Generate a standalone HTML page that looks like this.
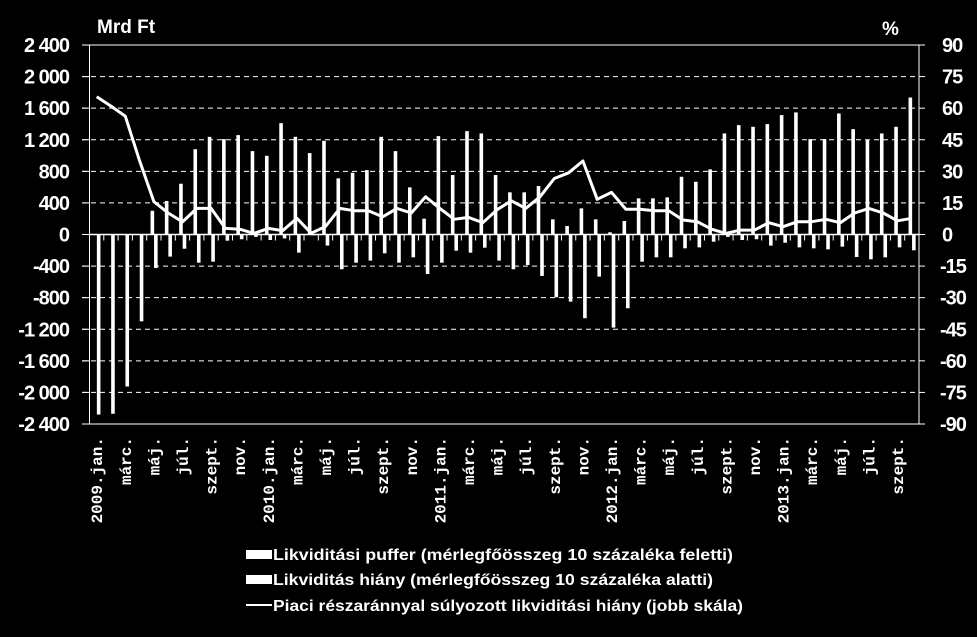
<!DOCTYPE html>
<html><head><meta charset="utf-8"><style>
html,body{margin:0;padding:0;background:#000;}
svg{display:block;}
text{fill:#fff;font-family:"Liberation Sans",sans-serif;font-weight:bold;}
</style></head><body>
<svg id="chart" width="977" height="637" viewBox="0 0 977 637" xmlns="http://www.w3.org/2000/svg">
<rect x="0" y="0" width="977" height="637" fill="#000"/>
<g id="grid"></g><g id="bars"></g><g id="line"></g><g id="axes"></g><g id="labels"></g>
<text x="97" y="33" font-size="19">Mrd Ft</text>
<text x="882" y="35" font-size="19">%</text>
<g>
<rect x="246" y="550" width="26" height="9" fill="#fff"/>
<text x="273" y="560" font-size="16" textLength="460" lengthAdjust="spacingAndGlyphs">Likviditási puffer (mérlegfőösszeg 10 százaléka feletti)</text>
<rect x="246" y="575" width="26" height="9" fill="#fff"/>
<text x="273" y="585" font-size="16" textLength="440" lengthAdjust="spacingAndGlyphs">Likviditás hiány (mérlegfőösszeg 10 százaléka alatti)</text>
<line x1="246" y1="605" x2="272" y2="605" stroke="#fff" stroke-width="2"/>
<text x="273" y="611" font-size="16" textLength="470" lengthAdjust="spacingAndGlyphs">Piaci részaránnyal súlyozott likviditási hiány (jobb skála)</text>
</g>
</svg>
<script>
const months = ["2009.jan.","febr.","márc.","ápr.","máj.","jún.","júl.","aug.","szept.","okt.","nov.","dec.",
"2010.jan.","febr.","márc.","ápr.","máj.","jún.","júl.","aug.","szept.","okt.","nov.","dec.",
"2011.jan.","febr.","márc.","ápr.","máj.","jún.","júl.","aug.","szept.","okt.","nov.","dec.",
"2012.jan.","febr.","márc.","ápr.","máj.","jún.","júl.","aug.","szept.","okt.","nov.","dec.",
"2013.jan.","febr.","márc.","ápr.","máj.","jún.","júl.","aug.","szept.","okt."];
const pufferValues = [0,0,0,0,300,425,643,1080,1237,1208,1259,1056,
997,1410,1237,1031,1187,711,782,816,1237,1056,597,200,
1246,753,1309,1280,753,534,534,614,192,108,331,192,
28,171,458,458,470,731,668,825,1280,1385,1364,1398,
1512,1546,1208,1208,1533,1335,1195,1280,1364,1735];
const hianyValues = [-2280,-2270,-1925,-1100,-425,-280,-180,-357,-344,-78,-60,-30,
-70,-50,-230,-10,-140,-440,-357,-331,-238,-357,-289,-500,
-357,-205,-230,-167,-331,-440,-386,-525,-795,-850,-1060,-533,
-1179,-934,-344,-289,-289,-175,-163,-91,-30,-70,-60,-141,
-104,-163,-175,-188,-154,-285,-314,-289,-163,-200];
const lineValues = [65.4,61,56.2,35,15.6,10.2,6,12.4,12.4,2.9,2.5,0.5,
2.9,1.8,7.7,0.6,3.8,12.4,11.3,11.3,8.4,12.4,10.2,17.9,
12.4,7.2,8.1,5.6,11.8,16,12.4,17.9,26.6,29.3,34.9,16.7,
20,12,12,11.3,11.3,6.9,6.1,2.5,0.5,2.1,2.1,5.6,
3.7,6.1,6.1,7.2,5.6,10.2,12.4,10.2,6.5,7.7];
const leftTicks = [-2400,-2000,-1600,-1200,-800,-400,0,400,800,1200,1600,2000,2400];
const leftTickLabels = ["-2 400","-2 000","-1 600","-1 200","-800","-400","0","400","800","1 200","1 600","2 000","2 400"];
const rightTicks = [-90,-75,-60,-45,-30,-15,0,15,30,45,60,75,90];

const NS="http://www.w3.org/2000/svg";
const X0=89.5, X1=919, Y0=45, Y1=424;
const slotW=(X1-X0)/months.length;
const yL=v=>Y1-(v+2400)/4800*(Y1-Y0);
const yR=v=>Y1-(v+90)/180*(Y1-Y0);
const xC=i=>X0+slotW*(i+0.5);
function mk(tag,attrs,parent){const e=document.createElementNS(NS,tag);for(const k in attrs)e.setAttribute(k,attrs[k]);document.getElementById(parent).appendChild(e);return e;}

// grid and left ticks
leftTicks.forEach((t,i)=>{
  const y=yL(t);
  const solid=(t===2400||t===-2400);
  const g=mk('line',{x1:82,x2:X1,y1:y,y2:y,stroke:'#fff','stroke-width':1,'stroke-dasharray':solid?'none':'5 4'},'grid');
  
  
  const tl=mk('line',{x1:82,x2:X0,y1:y,y2:y,stroke:'#fff','stroke-width':1},'axes');
  
  
  const tx=mk('text',{x:69,y:y+7,'font-size':20,'text-anchor':'end','letter-spacing':'-1'},'labels');
  tx.textContent=leftTickLabels[i];
  
  
});
rightTicks.forEach(t=>{
  const y=yR(t);
  const tl=mk('line',{x1:X1,x2:X1+6,y1:y,y2:y,stroke:'#fff','stroke-width':1},'axes');
  
  
  const tx=mk('text',{x:(t<0?940:942),y:y+7,'font-size':20,'letter-spacing':'-1'},'labels');
  tx.textContent=String(t);
  
  
});
// axes lines
[[X0,Y0,X0,Y1],[X1,Y0,X1,Y1]].forEach(a=>{
  const l=mk('line',{x1:a[0],y1:a[1],x2:a[2],y2:a[3],stroke:'#fff','stroke-width':1},'axes');
  
  
});
const y0=yL(0);
for(let i=0;i<=months.length;i++){
  const x=X0+slotW*i;
  const t=mk('line',{x1:x,x2:x,y1:y0,y2:y0+6,stroke:'#fff','stroke-width':1},'axes');
  
  
}
const z=mk('line',{x1:X0,x2:X1,y1:y0,y2:y0,stroke:'#fff','stroke-width':1.5},'axes');


// bars
pufferValues.forEach((v,i)=>{
  if(v<=0)return;
  const x=xC(i)-1.5-1.8;
  const r=mk('rect',{x:x,y:yL(v),width:3.6,height:y0-yL(v),fill:'#fff'},'bars');
  
  
});
hianyValues.forEach((v,i)=>{
  if(v>=0)return;
  const x=xC(i)+2-1.8;
  const r=mk('rect',{x:x,y:y0,width:3.6,height:yL(v)-y0,fill:'#fff'},'bars');
  
  
});
// line
const pts=lineValues.map((v,i)=>xC(i).toFixed(1)+','+yR(v).toFixed(1)).join(' ');
const pl=mk('polyline',{points:pts,fill:'none',stroke:'#fff','stroke-width':3,'stroke-linejoin':'round'},'line');


// x labels
months.forEach((m,i)=>{
  if(i%2!==0)return;
  const x=xC(i)+5.5, y=437;
  const t=mk('text',{x:x,y:y,'font-size':16,'text-anchor':'end',transform:`rotate(-90 ${x} ${y})`,style:'font-family:"Liberation Mono",monospace;font-weight:bold'},'labels');
  t.textContent=m;
  
  
});
</script>
</body></html>
